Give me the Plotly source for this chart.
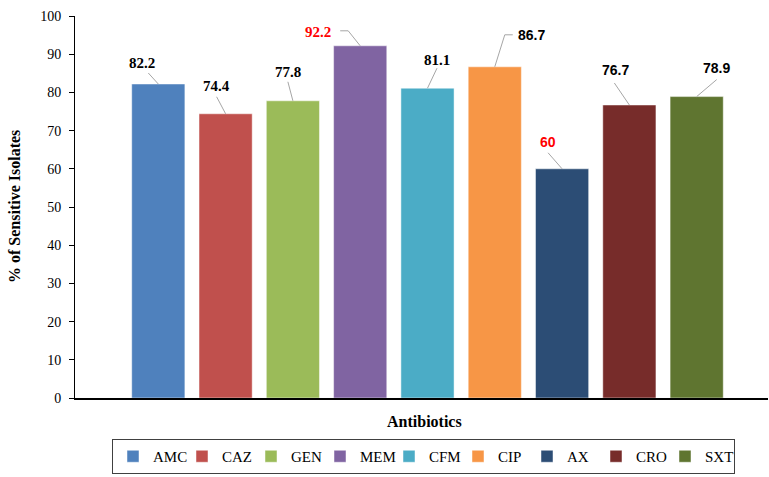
import plotly.graph_objects as go

# Antibiotic susceptibility: share of sensitive isolates per drug
antibiotics = ["AMC", "CAZ", "GEN", "MEM", "CFM", "CIP", "AX", "CRO", "SXT"]
sensitive_pct = [82.2, 74.4, 77.8, 92.2, 81.1, 86.7, 60, 76.7, 78.9]
bar_colors = ["#4F81BD", "#C0504D", "#9BBB59", "#8064A2", "#4BACC6",
              "#F79646", "#2C4D75", "#772C2A", "#5F7530"]
label_colors = ["black", "black", "black", "red", "black",
                "black", "red", "black", "black"]
label_fonts = ["Liberation Serif"] * 5 + ["Liberation Sans"] * 4
y_ticks = list(range(0, 101, 10))

# label placement relative to the top of each bar (pixels, y up)
label_shift = [(-16, 21), (-9, 28), (-5, 29), (-42, 14), (10, 28),
               (37, 32), (-14, 27), (-14, 35), (20, 29)]
# leader-line paths from label to bar top (pixels, y up)
leader_paths = [
    "M-10,11 L0,0",
    "M-9,17 L0,0",
    "M-5,19 L0,0",
    "M-20,15 L-12,15 L0,0",
    "M9.5,20 L0,0",
    "M18,32 L10,32 L0,0",
    "M-14,16 L0,0",
    "M-15,22 L0,0",
    "M20,17 L0,0",
]

fig = go.Figure()
for name, val, col in zip(antibiotics, sensitive_pct, bar_colors):
    fig.add_trace(go.Bar(
        x=[name], y=[val], name=name,
        marker=dict(color=col, line=dict(color="rgba(255,255,255,0.6)", width=0.8)),
        hoverinfo="x+y",
    ))

for name, val, lc, lf, (dx, dy), path in zip(
        antibiotics, sensitive_pct, label_colors, label_fonts, label_shift, leader_paths):
    fig.add_shape(
        type="path", xref="x", yref="y",
        xsizemode="pixel", ysizemode="pixel",
        xanchor=name, yanchor=val, path=path,
        line=dict(color="#A6A6A6", width=1),
    )
    fig.add_annotation(
        x=name, y=val, xref="x", yref="y",
        text=f"<b>{val:g}</b>", showarrow=False,
        xshift=dx, yshift=dy, xanchor="center", yanchor="middle",
        font=dict(family=lf, size=15 if lf == "Liberation Serif" else 14, color=lc),
    )

fig.add_annotation(
    text="<b>Antibiotics</b>", xref="paper", yref="paper",
    x=(424 - 75) / 693, y=(398 - 421) / 382, showarrow=False,
    xanchor="center", yanchor="middle",
    font=dict(family="Liberation Serif", size=16, color="black"),
)
fig.add_annotation(
    text="<b>% of Sensitive Isolates</b>", xref="paper", yref="paper",
    x=(14 - 75) / 693, y=0.5, showarrow=False, textangle=-90,
    xanchor="center", yanchor="middle",
    font=dict(family="Liberation Serif", size=16, color="black"),
)

fig.update_layout(
    width=769, height=477,
    margin=dict(l=75, r=1, t=16, b=79),
    paper_bgcolor="white", plot_bgcolor="white",
    barmode="overlay", bargap=0.21,
    showlegend=True,
    legend=dict(
        orientation="h", x=(112 - 75) / 693, y=(398 - 439) / 382,
        xanchor="left", yanchor="top",
        bordercolor="#404040", borderwidth=1,
        font=dict(family="Liberation Serif", size=15, color="black"),
        entrywidth=24, itemwidth=30,
    ),
    xaxis=dict(
        type="category", categoryorder="array", categoryarray=antibiotics,
        range=[-1.238, 9.06], showline=True, linecolor="black", linewidth=2,
        ticks="", showticklabels=False, showgrid=False, zeroline=False,
    ),
    yaxis=dict(
        range=[0, 100], tickvals=y_ticks, showline=True, linecolor="black",
        linewidth=1, ticks="outside", ticklen=5, tickcolor="black",
        ticklabelstandoff=5, showgrid=False, zeroline=False,
        tickfont=dict(family="Liberation Serif", size=14, color="black"),
    ),
)

fig.write_html("out.html")
